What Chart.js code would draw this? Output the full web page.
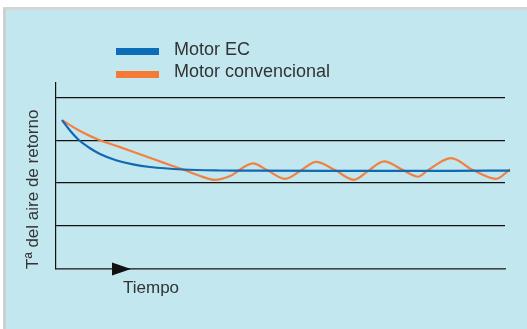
<!DOCTYPE html>
<html>
<head>
<meta charset="utf-8">
<script src="https://cdn.jsdelivr.net/npm/chart.js@4/dist/chart.umd.min.js"></script>
<style>
  html, body { margin: 0; padding: 0; background: #fff; }
  #wrap { position: relative; width: 527px; height: 329px; overflow: hidden; font-family: "Liberation Sans", Arial, sans-serif; }
  #panel { position: absolute; left: 3px; top: 7px; right: 0; bottom: 0; background: #c3e7ef; border-top: 3px solid #d2d6d6; border-left: 3px solid #cfcfcf; }
  #chart { position: absolute; left: 0; top: 0; }
  #legend { position: absolute; left: 0; top: 0; }
  .item { position: absolute; left: 116px; height: 22px; }
  .box { position: absolute; left: 0; width: 43px; height: 7px; }
  .txt { position: absolute; left: 58px; top: 0; font-size: 18px; line-height: 22px; color: #333; white-space: nowrap; }
</style>
</head>
<body>
<div id="wrap">
  <div id="panel"></div>
  <canvas id="chart" width="527" height="329"></canvas>
  <div id="legend"></div>
</div>
<script>
// series labels and colours
const seriesNames = ["Motor EC", "Motor convencional"];
const seriesColors = ["#1168b3", "#f28040"];
const legendColors = ["#0b6cb8", "#f47a36"];

// axis texts
const yTitle = "Tª del aire de retorno";
const xTitle = "Tiempo";

// Motor EC curve (x = time units, y = temperature units)
const ecX = [6, 14, 22, 34, 44, 60, 77, 94, 127, 164, 194, 294, 394, 454];
const ecY = [3.465, 3.223, 3.02, 2.812, 2.679, 2.533, 2.435, 2.374, 2.316, 2.293, 2.288, 2.284, 2.284, 2.291];

// Motor convencional curve
const convX = [6, 24, 42, 64, 84, 106, 129, 146, 159, 174, 197, 211, 229, 244, 260, 279, 298, 312, 328, 347, 362, 372, 395, 417, 440, 454];
const convY = [3.465, 3.214, 3.016, 2.837, 2.67, 2.488, 2.298, 2.151, 2.074, 2.163, 2.458, 2.302, 2.1, 2.279, 2.495, 2.302, 2.077, 2.279, 2.505, 2.302, 2.147, 2.302, 2.581, 2.302, 2.1, 2.319];

// axis ranges
const xMin = 0, xMax = 449;
const yMin = 0, yMax = 4.33, yStep = 1;

function toPoints(xs, ys) {
  return xs.map((x, i) => ({ x, y: ys[i] }));
}

// arrow on the time axis and the "Tiempo" caption
const timeArrow = {
  id: "timeArrow",
  afterDraw(chart) {
    const { ctx, chartArea } = chart;
    const y = chartArea.bottom;
    const x0 = chartArea.left + 56;
    ctx.save();
    ctx.fillStyle = "#111";
    ctx.beginPath();
    ctx.moveTo(x0, y - 6.5);
    ctx.lineTo(x0 + 19, y);
    ctx.lineTo(x0, y + 6.5);
    ctx.closePath();
    ctx.fill();
    ctx.fillStyle = "#333";
    ctx.font = "17px 'Liberation Sans', Arial, sans-serif";
    ctx.textBaseline = "alphabetic";
    ctx.fillText(xTitle, chartArea.left + 67, y + 24);
    ctx.restore();
  },
};

new Chart(document.getElementById("chart").getContext("2d"), {
  type: "line",
  data: {
    datasets: [
      { label: seriesNames[0], data: toPoints(ecX, ecY), borderColor: seriesColors[0], borderWidth: 2.2, pointRadius: 0, cubicInterpolationMode: "monotone", clip: false },
      { label: seriesNames[1], data: toPoints(convX, convY), borderColor: seriesColors[1], borderWidth: 2.2, pointRadius: 0, cubicInterpolationMode: "monotone", clip: false },
    ],
  },
  options: {
    responsive: false,
    animation: false,
    layout: { padding: { left: 0, top: 83, right: 22, bottom: 60 } },
    plugins: { legend: { display: false }, tooltip: { enabled: false } },
    scales: {
      x: {
        type: "linear",
        min: xMin,
        max: xMax,
        ticks: { display: false },
        grid: { display: false },
        border: { display: true, color: "#444", width: 1.5 },
        afterFit: (s) => { s.height = 0; },
      },
      y: {
        min: yMin,
        max: yMax,
        ticks: { display: false, stepSize: yStep, includeBounds: false },
        grid: {
          drawTicks: false,
          color: (c) => (c.tick && c.tick.value === 0 ? "#444" : "#111"),
          lineWidth: 1.2,
        },
        border: { display: true, color: "#111", width: 1.2 },
        title: {
          display: true,
          text: yTitle,
          align: "start",
          color: "#333",
          font: { family: "'Liberation Sans', Arial, sans-serif", size: 17 },
          padding: { top: 23, bottom: 0 },
        },
        afterFit: (s) => { s.width = 56; },
      },
    },
  },
  plugins: [timeArrow],
});

// legend stacked as in the picture
const legend = document.getElementById("legend");
seriesNames.forEach((name, i) => {
  const item = document.createElement("div");
  item.className = "item";
  item.style.top = (38 + i * 22) + "px";
  const box = document.createElement("div");
  box.className = "box";
  box.style.top = (10 + i) + "px";
  box.style.background = legendColors[i];
  const txt = document.createElement("div");
  txt.className = "txt";
  txt.textContent = name;
  item.appendChild(box);
  item.appendChild(txt);
  legend.appendChild(item);
});
</script>
</body>
</html>
